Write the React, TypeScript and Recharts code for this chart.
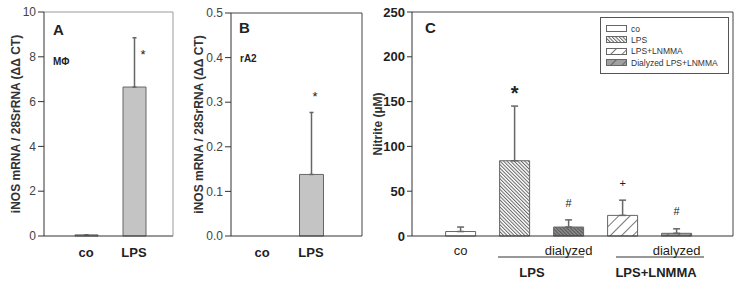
import { BarChart, Bar, XAxis, YAxis, Cell, ErrorBar, ReferenceDot, Legend } from 'recharts'

const FONT = '"Liberation Sans", Arial, sans-serif'

// panel A - macrophages
const aGroups = ['co', 'LPS']
const aMeans = [0.05, 6.65]
const aErrTops = [0.05, 8.85]
const aMarks = ['', '*']
const aMarkAt = [0, 8.1]
const aTicks = [0, 2, 4, 6, 8, 10]

// panel B - rA2 cells
const bGroups = ['co', 'LPS']
const bMeans = [0, 0.138]
const bErrTops = [0, 0.277]
const bMarks = ['', '*']
const bMarkAt = [0, 0.312]
const bTicks = [0, 0.1, 0.2, 0.3, 0.4, 0.5]

// panel C - nitrite
const cGroups = ['co', 'LPS', 'dLPS', 'LNMMA', 'dLNMMA']
const cTickLabels = ['co', '', 'dialyzed', '', 'dialyzed']
const cMeans = [5, 84, 10, 23, 3]
const cErrTops = [10, 145, 18, 40, 8]
const cMarks = ['', '*', '#', '+', '#']
const cMarkAt = [0, 160, 37, 59, 28]
const cTicks = [0, 50, 100, 150, 200, 250]
const cFills = ['#ffffff', 'url(#patLps)', 'url(#patDLps)', 'url(#patLnmma)', 'url(#patDLnmma)']

const legendLabels = ['co', 'LPS', 'LPS+LNMMA', 'Dialyzed LPS+LNMMA']
const legendFills = ['#ffffff', 'url(#patLps)', 'url(#patLnmma)', 'url(#patDLnmma)']

const yLabel = 'iNOS mRNA / 28SrRNA (ΔΔ CT)'

const toRows = (groups: string[], means: number[], tops: number[]) =>
  groups.map((g, i) => ({ name: g, value: means[i], err: [0, tops[i] - means[i]] }))

const aData = toRows(aGroups, aMeans, aErrTops)
const bData = toRows(bGroups, bMeans, bErrTops)
const cData = toRows(cGroups, cMeans, cErrTops)

const markShape = (mark: string, dx: number, size: number, bold: boolean) => (props: any) => (
  <text
    x={props.cx + dx}
    y={props.cy}
    textAnchor="middle"
    dominantBaseline="central"
    fontSize={size}
    fontWeight={bold ? 'bold' : 'normal'}
    fill="#222"
    fontFamily={FONT}
  >
    {mark}
  </text>
)

const axisLabel = (value: string, dx: number) => ({
  value,
  angle: -90,
  position: 'center' as const,
  dx,
  fill: '#333',
  fontSize: 12,
  fontWeight: 'bold',
})

function LegendBox() {
  return (
    <div
      style={{
        border: '1px solid #555',
        background: '#fff',
        padding: '5px 4px 5px 5px',
        fontFamily: FONT,
        fontSize: 8.5,
        color: '#333',
        boxSizing: 'border-box',
        width: 129,
      }}
    >
      {legendLabels.map((l, i) => (
        <div key={l} style={{ display: 'flex', alignItems: 'center', height: 11.3 }}>
          <svg width={22} height={9} style={{ marginRight: 3 }}>
            <rect x={0.5} y={1.5} width={20} height={6} fill={legendFills[i]} stroke="#666" />
          </svg>
          <span>{l}</span>
        </div>
      ))}
    </div>
  )
}

export default function App() {
  const tickNum = { fontSize: 12, fill: '#444', fontFamily: FONT }
  const tickBold = { fontSize: 13, fill: '#222', fontWeight: 'bold', fontFamily: FONT }
  return (
    <div style={{ position: 'absolute', left: 0, top: 0, width: 744, height: 284, background: '#fff', fontFamily: FONT }}>
      <div style={{ position: 'absolute', left: 0, top: 0 }}>
        <BarChart width={185} height={284} data={aData} margin={{ top: 11, right: 11, bottom: 18, left: 0 }}>
          <XAxis dataKey="name" tickLine={false} tick={tickBold} tickMargin={6} stroke="#333" padding={{ left: 18, right: 15 }} height={30} />
          <XAxis xAxisId="top" dataKey="name" orientation="top" tick={false} tickLine={false} stroke="#999" height={1} />
          <YAxis domain={[0, 10]} ticks={aTicks} tick={tickNum} stroke="#333" width={44} label={axisLabel(yLabel, -6)} />
          <YAxis yAxisId="right" orientation="right" tick={false} tickLine={false} stroke="#999" width={1} />
          <Bar dataKey="value" barSize={23} fill="#c4c4c4" stroke="#666" isAnimationActive={false}>
            <ErrorBar dataKey="err" width={2} stroke="#666" direction="y" />
          </Bar>
          {aGroups.map((g, i) =>
            aMarks[i] ? (
              <ReferenceDot key={g} x={g} y={aMarkAt[i]} r={1} shape={markShape(aMarks[i], 9, 13, false)} />
            ) : null
          )}
        </BarChart>
      </div>

      <div style={{ position: 'absolute', left: 190, top: 0 }}>
        <BarChart width={180} height={284} data={bData} margin={{ top: 12, right: 7, bottom: 18, left: 0 }}>
          <XAxis dataKey="name" tickLine={false} tick={tickBold} tickMargin={6} stroke="#333" padding={{ left: 6.5, right: 26.5 }} height={30} />
          <XAxis xAxisId="top" dataKey="name" orientation="top" tick={false} tickLine={false} stroke="#444" height={1} />
          <YAxis domain={[0, 0.5]} ticks={bTicks} tick={tickNum} tickFormatter={(v: number) => v.toFixed(1)} stroke="#333" width={41} label={axisLabel(yLabel, -12)} />
          <YAxis yAxisId="right" orientation="right" tick={false} tickLine={false} stroke="#444" width={1} />
          <Bar dataKey="value" barSize={24} fill="#c4c4c4" stroke="#666" isAnimationActive={false}>
            <ErrorBar dataKey="err" width={2} stroke="#666" direction="y" />
          </Bar>
          {bGroups.map((g, i) =>
            bMarks[i] ? (
              <ReferenceDot key={g} x={g} y={bMarkAt[i]} r={1} shape={markShape(bMarks[i], 4, 13, false)} />
            ) : null
          )}
        </BarChart>
      </div>

      <div style={{ position: 'absolute', left: 370, top: 0 }}>
        <BarChart width={374} height={284} data={cData} margin={{ top: 11, right: 10, bottom: 18, left: 0 }}>
          <defs>
            <pattern id="patLps" width={2.5} height={2.5} patternUnits="userSpaceOnUse" patternTransform="rotate(-45)">
              <rect width={2.5} height={2.5} fill="#fff" />
              <line x1={0.5} y1={0} x2={0.5} y2={2.5} stroke="#666" strokeWidth={1} />
            </pattern>
            <pattern id="patDLps" width={2.5} height={2.5} patternUnits="userSpaceOnUse" patternTransform="rotate(-45)">
              <rect width={2.5} height={2.5} fill="#8c8c8c" />
              <line x1={0.5} y1={0} x2={0.5} y2={2.5} stroke="#555" strokeWidth={1} />
            </pattern>
            <pattern id="patLnmma" width={8} height={8} patternUnits="userSpaceOnUse" patternTransform="rotate(45)">
              <rect width={8} height={8} fill="#fff" />
              <line x1={0.5} y1={0} x2={0.5} y2={8} stroke="#777" strokeWidth={1} />
            </pattern>
            <pattern id="patDLnmma" width={8} height={8} patternUnits="userSpaceOnUse" patternTransform="rotate(45)">
              <rect width={8} height={8} fill="#a0a0a0" />
              <line x1={0.5} y1={0} x2={0.5} y2={8} stroke="#666" strokeWidth={1} />
            </pattern>
          </defs>
          <XAxis
            dataKey="name"
            tickLine={false}
            tick={{ fontSize: 13, fill: '#222', fontFamily: FONT }}
            tickFormatter={(_v: string, i: number) => cTickLabels[i]}
            tickMargin={4}
            stroke="#333"
            padding={{ left: 21.6, right: 29.4 }}
            height={30}
          />
          <XAxis xAxisId="top" dataKey="name" orientation="top" tick={false} tickLine={false} stroke="#444" height={1} />
          <YAxis domain={[0, 250]} ticks={cTicks} tick={tickBold} tickSize={5} stroke="#333" width={42} label={axisLabel('Nitrite (µM)', -13)} />
          <YAxis yAxisId="right" orientation="right" tick={false} tickLine={false} stroke="#444" width={1} />
          <Legend
            verticalAlign="middle"
            align="center"
            layout="horizontal"
            wrapperStyle={{ left: 230, top: 17, width: 129 }}
            content={() => <LegendBox />}
          />
          <Bar dataKey="value" barSize={30} stroke="#666" isAnimationActive={false}>
            {cData.map((d, i) => (
              <Cell key={d.name} fill={cFills[i]} />
            ))}
            <ErrorBar dataKey="err" width={3.5} stroke="#666" direction="y" />
          </Bar>
          {cGroups.map((g, i) =>
            cMarks[i] ? (
              <ReferenceDot
                key={g}
                x={g}
                y={cMarkAt[i]}
                r={1}
                shape={markShape(cMarks[i], 0, cMarks[i] === '*' ? 20 : 11, cMarks[i] === '*')}
              />
            ) : null
          )}
        </BarChart>
      </div>

      <svg width={744} height={284} style={{ position: 'absolute', left: 0, top: 0, pointerEvents: 'none' }} fontFamily={FONT} fontWeight="bold" fill="#222">
        <text x={53} y={35} fontSize={15}>A</text>
        <text x={53} y={65} fontSize={10}>MΦ</text>
        <text x={239} y={33} fontSize={15}>B</text>
        <text x={240} y={62} fontSize={10}>rA2</text>
        <text x={425} y={33} fontSize={15}>C</text>
        <line x1={498} y1={257} x2={584} y2={257} stroke="#333" />
        <line x1={616} y1={257} x2={704} y2={257} stroke="#333" />
        <text x={532} y={277} fontSize={13} textAnchor="middle">LPS</text>
        <text x={656} y={277} fontSize={13} textAnchor="middle">LPS+LNMMA</text>
      </svg>
    </div>
  )
}
